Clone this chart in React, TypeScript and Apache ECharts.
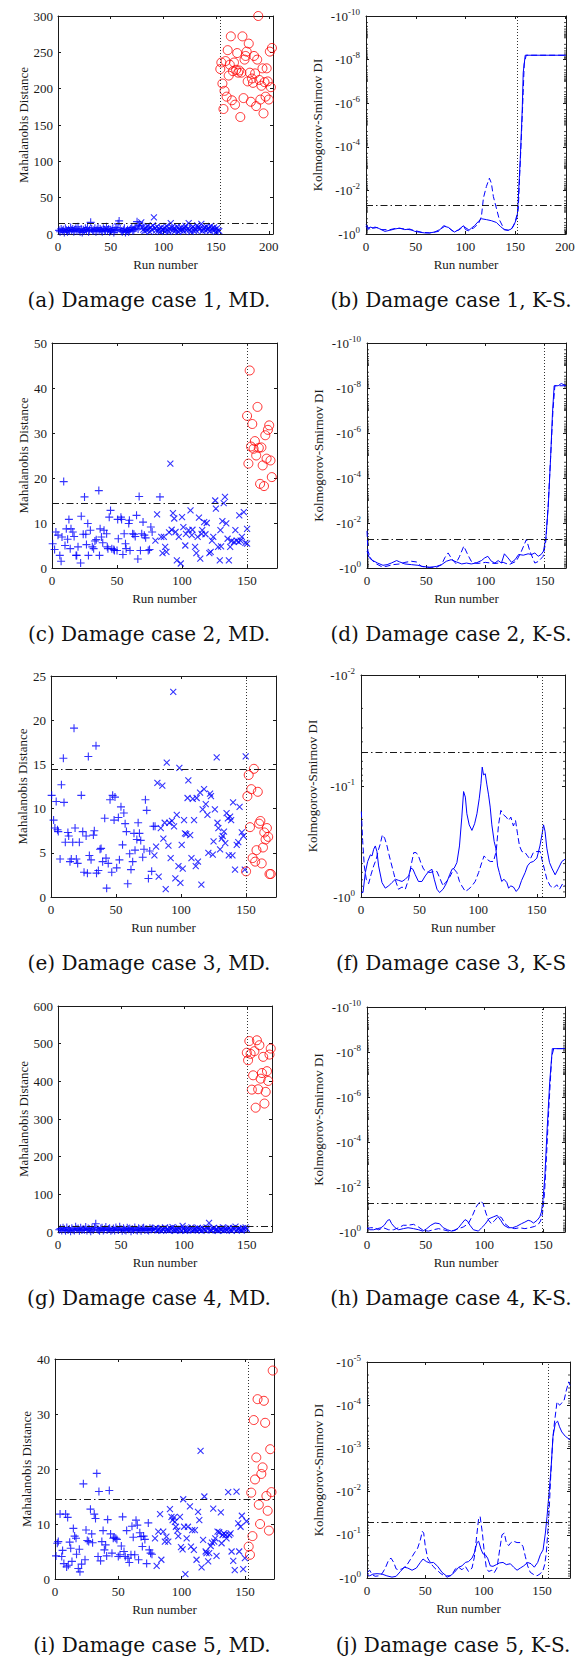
import React, { useEffect, useRef } from 'react';
import * as echarts from 'echarts';

type Pt = [number, number];

const FONT = 'Liberation Serif';
const CAP_FONT = 'DejaVu Serif';
const INK = '#1a1a1a';
const BLUE = '#0000ff';
const RED = '#ff0000';
const PLUS = 'path://M5,0L5,10M0,5L10,5';
const CROSS = 'path://M0,0L10,10M10,0L0,10';

const THRESH_MD = 14.5;
const THRESH_KS = 1.301; // decades below 10^0 (p = 0.05)
const LOG_MINOR = [2, 3, 4, 5, 6, 7, 8, 9];

// ---------- Case 1 (a, b) ----------
const plusA = [5,3,7,4,6,2,8,5,3,6,4,9,5,7,3,6,8,4,10,5,3,7,2,6,4,8,5,9,3,6,16,7,4,5,8,3,6,9,4,7,5,3,8,6,4,10,5,7,3,6,4,8,2,5,9,6,14,18,7,4,3,5,8,2,4,6,3,5,7,9,4,6,8,10,17,7,12];
const crossA = [13,16,9,6,4,8,5,11,7,3,9,6,12,23,8,5,10,4,7,3,9,6,5,8,4,11,6,3,7,15,9,5,8,4,6,10,3,7,5,9,6,4,8,11,5,7,15,6,3,8,10,4,7,5,12,9,6,8,14,4,7,9,5,10,6,8,4,11,7,5,9,6,3,8,5,4];
const circA = [227,236,207,172,197,238,189,253,218,233,272,184,224,236,178,226,249,222,225,161,222,272,187,240,245,251,210,262,222,182,214,208,245,221,176,240,300,212,185,204,228,166,209,189,228,210,185,251,202,256];
const ksB_solid: Pt[] = [[0,0.35],[2,0.2],[4,0.32],[8,0.27],[11,0.3],[14,0.23],[19,0.12],[24,0.17],[29,0.23],[34,0.27],[39,0.2],[44,0.23],[49,0.12],[54,0.08],[59,0.05],[64,0.05],[69,0.09],[74,0.2],[79,0.35],[83,0.3],[86,0.17],[89,0.09],[93,0.2],[95,0.27],[98,0.38],[100,0.2],[103,0.15],[106,0.27],[109,0.38],[113,0.58],[116,0.7],[121,0.66],[126,0.61],[131,0.53],[135,0.35],[139,0.2],[143,0.17],[146,0.23],[149,0.43],[152,0.8],[153,1.57],[155,3.4],[157,5.7],[158,7.4],[160,8.2],[201,8.2]];
const ksB_dashed: Pt[] = [[0,0.43],[4,0.2],[9,0.32],[16,0.2],[24,0.2],[31,0.27],[39,0.23],[48,0.17],[56,0.08],[64,0.05],[73,0.12],[78,0.38],[82,0.32],[88,0.12],[93,0.17],[98,0.35],[103,0.2],[108,0.27],[113,0.47],[116,0.8],[118,1.65],[121,2.18],[124,2.56],[126,2.33],[128,1.72],[131,1.19],[134,0.66],[139,0.2],[143,0.17],[147,0.27],[150,0.58],[153,1.11],[154,2.2],[156,4.3],[158,6.5],[159,7.8],[161,8.2],[201,8.2]];

// ---------- Case 2 (c, d) ----------
const plusC: Pt[] = [[0.5,5.4],[2,4.1],[3,8],[4.6,7.3],[6,2.8],[7,1.5],[7.7,6.9],[9,19.2],[10,5],[11,8.7],[12,6.4],[13,10.8],[14,4.3],[14.6,8.7],[16,8],[17,7],[18.5,2.8],[19,2.8],[20,4.7],[22,1.1],[22.5,11.5],[24,7.5],[25,15.8],[26,7.5],[26.5,5.2],[27.5,9.9],[28,2.8],[29.5,8.4],[31,4.7],[32,4.3],[33,6],[34,6.3],[36,17.2],[36.5,2.8],[37,8.7],[38,6.9],[39,5.6],[40,8.4],[42,7.6],[42.5,4.7],[43,4.3],[44,11.3],[45,12.8],[46,4.3],[47.5,4.1],[48,3.9],[50,3.9],[50.5,10.8],[51,6.5],[53,11.3],[53.5,10.8],[54.5,3],[55.5,7.6],[56.5,5.4],[57,4.3],[59,9.9],[59.5,10.6],[60,3.9],[62,7.6],[63,7.5],[64,7],[65,11.7],[66,2],[67,15.9],[68,3.9],[69,7.6],[70,10.2],[71,7.3],[72,6.7],[74,3.9],[75,4.1],[76,9.1],[77,8],[83,15.8]];
const crossC: Pt[] = [[79.5,6.1],[80.8,11.9],[84,6.9],[85,3.3],[86,6.9],[87,4.7],[88,3.6],[90,7.9],[91,23.2],[92,8.5],[93,12.2],[94,11],[95,8],[96,1.7],[97.5,6.9],[99,1],[100,11.3],[101,9.1],[102.5,5],[103,7.6],[105,8.4],[106.5,12.8],[107.5,7.3],[108,8.5],[110,4.7],[111,3.3],[112,6.9],[113,11.2],[114,2.1],[115,7.6],[115.5,8.4],[117,10.2],[118,7.5],[119,10],[121,3.3],[122,3.6],[123,6.1],[124,6.9],[125.5,15],[126,13.2],[127.7,4.7],[129,1.7],[129.5,8.4],[130,4.8],[131,10.4],[132,14.4],[133,15.8],[134,9.9],[135,6.5],[136,1.7],[137,4.7],[138,6],[140,5.8],[141,8.4],[142,6.1],[143.5,5.8],[144,11.7],[145,6.1],[146,6.9],[147.5,12.4],[148.7,5.6],[150,8.7],[150,5.4]];
const circC = [33.8,23.2,43.9,27,32,26.5,28.2,25,35.8,26.7,18.7,26.8,22.8,18.2,29.5,24.3,30.7,31.7,23.9,20.2];
const ksD_solid: Pt[] = [[0,0.75],[2,0.45],[5,0.33],[9,0.22],[13.5,0.12],[17,0.15],[20.5,0.22],[25,0.33],[27.6,0.27],[32,0.18],[37.5,0.15],[43,0.12],[47,0.07],[53,0.03],[58.6,0.07],[63,0.15],[67,0.3],[71,0.37],[75.5,0.27],[80,0.18],[84,0.22],[88,0.18],[92,0.22],[96.6,0.33],[99.4,0.45],[102,0.52],[105,0.3],[108,0.22],[110.7,0.33],[113.5,0.22],[116,0.63],[119,0.45],[122,0.25],[125,0.37],[128,0.6],[132,0.57],[136,0.63],[139,0.6],[141.7,0.67],[144.5,0.52],[147,0.6],[149,0.75],[151,1.35],[153,2.7],[155,4.9],[156.6,6.9],[158,8.1],[161.4,8.1],[164,8.2],[168,8.1]];
const ksD_dashed: Pt[] = [[0,1.65],[0.8,0.75],[3.7,0.37],[8,0.18],[12,0.07],[16,0.07],[22,0.15],[27.6,0.18],[32,0.25],[37.5,0.3],[41.7,0.27],[46,0.07],[51.5,0.03],[58.6,0.03],[63,0.15],[65.6,0.45],[68.5,0.67],[71,0.45],[75,0.2],[78,0.5],[81.7,0.97],[85,0.6],[88,0.3],[93,0.2],[100,0.25],[108,0.2],[115,0.25],[120,0.15],[126,0.3],[130,0.7],[134.6,1.27],[137.5,0.75],[141.7,0.22],[145,0.3],[148.7,0.52],[151,1.2],[153,2.85],[155,4.9],[157,7.0],[158.6,8.1],[168,8.1]];

// ---------- Case 3 (e, f) ----------
const plusE: Pt[] = [[0.5,11.5],[2,8.7],[3,7.8],[4,10.8],[5,7.6],[5.6,7.4],[7,4.3],[8,12.7],[9.5,15.7],[10,10.7],[11,6.2],[13,7.3],[13.6,6.9],[14.6,4.0],[15.6,4.3],[16.7,6.2],[17.7,19.1],[18.5,7.8],[19.5,4.3],[20.5,3.8],[21.8,6.2],[23.3,11.5],[24.4,7.4],[25.4,2.8],[27,6.9],[28,2.7],[28.7,15.9],[29.5,4.7],[30.8,4.2],[32.6,7.0],[33.3,7.5],[34.6,17.1],[35,2.7],[36.4,3.0],[37.7,5.4],[38.5,5.5],[39.7,4.0],[41.3,8.9],[42.3,4.4],[42.8,1.0],[44,3.8],[45.4,11.0],[46.7,2.8],[47.4,11.5],[48.5,8.7],[49.2,11.3],[50.5,3.3],[51.8,9.0],[52.6,4.2],[53.8,10.2],[55,5.9],[56,9.5],[57,8.3],[58,7.4],[59,1.5],[60.5,4.9],[61.5,3.1],[62.8,4.0],[63.8,7.2],[64.6,5.3],[66,6.5],[67,8.4],[68,7.2],[69,6.4],[70.5,4.5],[71.5,5.4],[72.6,11],[73.6,9.8],[74.9,2.1],[75.9,5.2],[77.4,2.9],[78.7,8.0],[80,8.0]];
const crossE: Pt[] = [[79.5,4.7],[80.8,5.7],[81.8,12.9],[82.8,2.3],[84.4,7.8],[85.6,12.6],[86.4,6.6],[87.4,8.4],[88.2,0.9],[89,15.2],[90.3,5.8],[91,8.4],[92,4.4],[93,8.6],[94,23.2],[94.6,8.0],[95.6,2.1],[96.7,9.3],[98,3.5],[98.7,14.6],[99.5,1.6],[100.5,5.9],[101.3,3.2],[102.3,8.7],[103,7.2],[104,7.1],[105,11.2],[105.6,13.2],[107,7.0],[108,4.4],[109,11.1],[110,8.7],[111.3,3.5],[112,11.2],[113,4.0],[114.6,11.8],[115.6,1.4],[116.6,9.9],[117.7,12.2],[119,10.5],[120.3,9.3],[121,5.0],[122.3,11.7],[123,11.4],[124.4,4.8],[125,6.3],[126,9.9],[127.4,15.8],[128,8.4],[128.7,7.8],[130,5.4],[131.3,6.6],[132,6.9],[133,7.4],[134,6.1],[135,9.5],[136,8.9],[136.7,4.7],[137.7,9.1],[138.5,8.7],[139.5,4.7],[140,10.7],[141.5,3.1],[142.8,5.9],[144,6.2],[145,10.2],[146.7,7.3],[148,6.9],[149,3.1],[149.7,15.9]];
const circE = [2.9,11.4,13.8,7.9,12.2,4.4,14.5,4.0,5.3,11.9,8.3,8.6,3.8,5.6,7.3,6.5,7.8,6.8,2.6,2.6];
const ksF_solid: Pt[] = [[0.3,0.04],[1.7,0.04],[3.7,0.22],[5.7,0.32],[8,0.38],[9.4,0.37],[10.8,0.43],[12.2,0.46],[13.6,0.41],[15,0.28],[17.9,0.13],[20.7,0.08],[23.6,0.1],[26.4,0.13],[29.3,0.16],[32,0.15],[35,0.14],[37.8,0.16],[40.6,0.19],[42.6,0.26],[44.3,0.25],[46.3,0.2],[49,0.14],[52,0.14],[54.8,0.19],[57.7,0.23],[60.5,0.25],[62.5,0.16],[64.8,0.07],[67,0.04],[70,0.07],[72.7,0.12],[75.6,0.2],[77.6,0.25],[79.5,0.26],[81.8,0.31],[84,0.46],[86,0.72],[87.5,0.95],[89,0.9],[90.3,0.75],[92.3,0.65],[94.6,0.6],[96.9,0.66],[98.9,0.75],[100.9,0.89],[102.3,1.02],[103.4,1.17],[104.5,1.1],[106,1.11],[107.4,1.01],[108.8,0.92],[110.2,0.81],[111.6,0.65],[113.6,0.5],[115,0.44],[116.5,0.28],[118,0.22],[120,0.14],[122,0.16],[124.4,0.13],[125.9,0.08],[127.8,0.1],[130,0.09],[132.4,0.05],[134.7,0.08],[137,0.15],[140,0.22],[142,0.28],[144.3,0.31],[147,0.32],[150,0.35],[152.6,0.46],[154.5,0.57],[155.7,0.65],[157,0.59],[158.5,0.44],[160.8,0.31],[162.8,0.26],[165.6,0.2],[168.5,0.26],[171.3,0.32],[174,0.34]];
const ksF_dashed: Pt[] = [[0.3,0.77],[1.4,0.51],[2.8,0.28],[4.5,0.16],[6.5,0.12],[8.5,0.2],[10.8,0.28],[13,0.34],[15,0.43],[16.5,0.48],[18.2,0.56],[20.2,0.53],[22.2,0.46],[23.9,0.38],[25.6,0.31],[27.8,0.22],[30,0.13],[32,0.07],[35,0.09],[37.8,0.07],[40.6,0.16],[42.6,0.28],[45,0.4],[47,0.4],[49,0.37],[51,0.31],[53.4,0.25],[56,0.23],[59,0.22],[62,0.23],[64.8,0.23],[67.6,0.16],[70,0.1],[72,0.13],[74.7,0.16],[77.6,0.22],[79.5,0.25],[81.8,0.22],[84,0.14],[86,0.1],[89,0.05],[91.8,0.07],[94.6,0.1],[97.4,0.14],[100.3,0.22],[103,0.31],[105,0.37],[107.4,0.34],[110.2,0.32],[113,0.32],[115.3,0.41],[117.3,0.65],[119.3,0.78],[121.6,0.74],[123.9,0.72],[125.9,0.69],[127.8,0.72],[130,0.64],[131.8,0.69],[133.5,0.57],[135.2,0.46],[137.2,0.41],[140,0.4],[142,0.37],[144.3,0.34],[147,0.4],[150,0.41],[152.8,0.41],[154.3,0.34],[156.2,0.26],[158.5,0.16],[161.4,0.1],[164.2,0.08],[167,0.11],[169.3,0.07],[172,0.12],[174,0.1]];

// ---------- Case 4 (g, h) ----------
const plusG = [6,9,4,11,7,3,12,5,8,2,10,6,4,14,7,9,3,11,5,8,6,13,4,9,7,2,10,5,12,22,8,6,3,9,11,4,7,13,5,8,10,3,6,9,4,12,7,5,14,8,3,10,6,4,11,7,9,2,8,5,12,6,4,10,7,3,9,11,5,8,6,4,10,7,9];
const crossG = [5,8,11,4,7,10,3,9,6,12,5,8,4,10,7,13,6,3,9,5,11,7,4,16,8,3,6,10,5,9,12,4,7,8,5,11,6,9,3,10,7,5,12,8,24,6,4,9,11,5,8,3,10,7,6,12,4,9,5,8,11,6,3,10,7,14,5,8,9,6,4,10,7,12,8];
const circG = [476,456,507,473,378,416,480,330,509,379,496,407,422,465,341,372,427,401,471,487];
const ksH_solid: Pt[] = [[0,0.19],[2.3,0.1],[5.7,0.1],[9,0.15],[12,0.19],[14.7,0.3],[17.6,0.52],[19.3,0.55],[21,0.37],[24,0.19],[27,0.1],[31,0.15],[35,0.19],[39.7,0.15],[44,0.1],[47.6,0.04],[51,0.15],[54.4,0.3],[58,0.4],[61.8,0.37],[65,0.19],[68.6,0.1],[72,0.04],[75,0.07],[78,0.19],[80.7,0.37],[83.6,0.55],[85.6,0.49],[87.8,0.3],[90.7,0.1],[95,0.04],[97.7,0.19],[100.6,0.34],[104,0.59],[107.6,0.67],[111,0.74],[114,0.52],[116.7,0.3],[120.4,0.19],[124,0.19],[127.5,0.25],[131.7,0.37],[134.6,0.44],[137.4,0.52],[139.4,0.49],[142,0.4],[145,0.52],[147.3,0.67],[148.7,0.89],[150,1.41],[151.6,2.44],[153.5,4.5],[155.8,6.7],[158,8.15],[168.8,8.15]];
const ksH_dashed: Pt[] = [[0,0.15],[2.8,0.19],[6.2,0.19],[9.9,0.1],[14,0.19],[18.4,0.1],[22.7,0.1],[27,0.19],[31,0.3],[35,0.3],[39.7,0.34],[44,0.22],[48,0.07],[52.4,0.04],[56.7,0.1],[61,0.15],[65,0.1],[69.4,0.04],[73.7,0.07],[78,0.15],[82,0.22],[86.4,0.37],[90,0.74],[93,1.11],[95,1.26],[97,1.38],[99,1.26],[101.4,0.84],[103.7,0.52],[106,0.37],[109,0.52],[112,0.7],[114.7,0.64],[117.6,0.37],[121.8,0.19],[126,0.15],[130,0.19],[134.6,0.15],[138.8,0.19],[143,0.25],[146,0.34],[148,0.49],[149.6,0.81],[151.3,1.7],[153,3.33],[155.2,5.7],[157.5,7.8],[159.2,8.15],[168.8,8.15]];

// ---------- Case 5 (i, j) ----------
const plusI: Pt[] = [[0.8,4.2],[1.8,6.5],[2.6,6.8],[4,11.8],[5.3,4.1],[6,5.2],[7,2.8],[8.4,11.8],[9.2,2.2],[10,11.2],[10.5,2.5],[11.6,6.7],[12.4,5.6],[13.4,3.2],[14.5,9.2],[15.5,7.8],[16.6,7.4],[17,4.5],[18.4,1.9],[19.2,5.4],[19.7,1.3],[21,2.7],[22.4,17.3],[23.7,3.5],[24.5,8.9],[25.5,7.0],[26.6,6.8],[28,12.7],[29,8.2],[29.7,6.6],[31,11.8],[32,11.0],[33,19.2],[34,4.1],[34.7,15.9],[36,3.3],[37,6.8],[38,8.8],[39,5.3],[40,6.2],[40.8,4.2],[41.6,10.8],[42.9,16.1],[43.9,8.2],[45,4.7],[46,7.4],[46.8,7.6],[48,7.4],[48.9,7.2],[50,4.1],[51.3,4.4],[52.4,6.0],[53.4,11.3],[54.5,5.0],[55.5,4.1],[56.6,8.8],[57.6,3.8],[58.7,3.0],[60,4.4],[60.8,9.6],[61.8,7.6],[63,4.4],[64,10.7],[65,9.8],[66,3.5],[67,8.4],[68,7.7],[69,5.9],[70,7.8],[71,7.2],[72.4,2.8],[73.7,10.2],[74.5,5.3],[75.5,4.7],[76.6,4.5]];
const crossI: Pt[] = [[79,7.4],[80.3,2.4],[81.6,8.6],[83,11.8],[84,3.5],[85.5,8.6],[86.8,6.8],[88,7.7],[89.5,6.8],[90.8,12.7],[92,11.3],[92.9,10.7],[94,11.2],[94.7,10.4],[95.5,9.5],[96.6,8.8],[97.4,7.8],[98.7,11.3],[99.5,5.8],[100.8,5.4],[101.3,14.5],[102,9.5],[103,0.9],[104,7.4],[105,9.5],[106.6,13.2],[107.4,5.9],[108.4,8.9],[109.7,5.3],[110.5,8.9],[111.8,3.5],[113,12.2],[114,10.7],[115,23.3],[115.8,2.1],[117,7.1],[118,15],[119,5.0],[119.7,4.7],[121,3.2],[121.8,4.7],[123,6.0],[124,6.6],[125,12.8],[125.8,6.8],[126.6,7.4],[127.6,4.2],[128.4,8.6],[129.7,8.5],[131,12.1],[131.6,6.5],[132.4,8.0],[133.4,8.3],[134.7,8.0],[135.5,7.4],[136.8,15.8],[137.6,8.0],[138.7,8.3],[139.5,5.0],[140.8,3.3],[142,1.6],[143.4,15.9],[144.7,10.1],[145.5,5.0],[146.6,9.5],[147.6,11.5],[148.7,1.8],[150,3.8],[151.3,10.5]];
const circI = [5.9,4.4,15.7,7.8,28.9,18.1,22.1,32.7,13.5,10.0,19.1,20.3,32.4,28.4,15.1,12.4,8.8,23.6,15.8,37.9];
const ksJ_solid: Pt[] = [[0.3,0.08],[2.3,0.05],[5,0.09],[8.6,0.1],[12.9,0.09],[17,0.05],[21.4,0.02],[25,0.04],[28.6,0.15],[32,0.25],[35,0.23],[38.6,0.18],[42.3,0.23],[45.7,0.36],[48,0.44],[50.9,0.38],[53.7,0.35],[57,0.36],[60.6,0.27],[64.3,0.13],[68,0.05],[71.4,0.05],[74.9,0.13],[78.6,0.25],[81.4,0.28],[84.3,0.36],[87,0.38],[90,0.46],[92,0.58],[94.3,0.82],[95.7,0.85],[97.7,0.67],[99.4,0.56],[101.4,0.54],[103.4,0.46],[105.7,0.28],[108,0.27],[110.9,0.31],[113.7,0.35],[116.6,0.36],[119.4,0.31],[122.9,0.33],[125.7,0.25],[128.6,0.18],[131.4,0.23],[134.3,0.28],[137.7,0.36],[140.6,0.33],[143.4,0.25],[146.3,0.36],[148.6,0.54],[150.9,0.65],[152.9,1.04],[154.3,1.42],[156,1.96],[157.7,2.5],[159.4,3.27],[161.4,3.58],[163.4,3.63],[165,3.5],[167,3.38],[170,3.28],[174,3.2]];
const ksJ_dashed: Pt[] = [[0.3,0.13],[2.3,0.18],[4.3,0.08],[7,0.04],[10,0.05],[12.9,0.1],[15.7,0.23],[18.6,0.42],[20.6,0.46],[22.9,0.36],[25,0.21],[27,0.19],[30,0.21],[33.7,0.28],[37,0.42],[40.6,0.58],[43.4,0.69],[45.7,0.88],[47.4,1.08],[48.6,1.04],[50,0.73],[52,0.46],[54.3,0.36],[56.6,0.27],[60,0.18],[63.4,0.1],[66.3,0.05],[69,0.02],[72.9,0.08],[75.7,0.21],[78.5,0.25],[81.4,0.19],[84.3,0.27],[87,0.15],[90,0.23],[92,0.48],[94.3,1.04],[95.7,1.38],[97,1.42],[98.9,1.04],[100.6,0.58],[102.3,0.23],[104.3,0.15],[107,0.18],[109,0.12],[111.4,0.23],[113.7,0.65],[115.7,1.0],[117.7,1.04],[119.4,0.82],[121.4,0.75],[123.4,0.82],[125.7,0.85],[128.6,0.82],[131.4,0.82],[133.7,0.73],[135.7,0.5],[137.7,0.28],[140,0.13],[142.9,0.08],[145.7,0.05],[148.6,0.1],[150.9,0.18],[152.3,0.31],[153.7,0.58],[154.9,1.04],[156.3,1.65],[157.7,2.5],[159.4,3.27],[160.9,3.65],[162.9,4.08],[165,4.0],[167,4.05],[169,4.12],[170.9,4.35],[172.9,4.54],[174,4.46]];

const runs = (ys: number[], first: number): Pt[] => ys.map((y, i) => [first + i, y]);

interface Panel {
  kind: 'md' | 'ks';
  box: [number, number, number, number];
  xMax: number;
  yMax: number;
  yInt: number;
  vline: number;
  caption: string;
  cap: [number, number];
  plus?: Pt[]; cross?: Pt[]; circ?: Pt[];
  solid?: Pt[]; dashed?: Pt[];
}

const panels: Panel[] = [
  { kind: 'md', box: [58, 16, 215, 218], xMax: 204, yMax: 300, yInt: 50, vline: 154, caption: '(a) Damage case 1, MD.', cap: [149, 300],
    plus: runs(plusA, 1), cross: runs(crossA, 78), circ: runs(circA, 154) },
  { kind: 'ks', box: [366, 16, 200, 218], xMax: 201, yMax: 10, yInt: 2, vline: 152, caption: '(b) Damage case 1, K-S.', cap: [451, 300],
    solid: ksB_solid, dashed: ksB_dashed },
  { kind: 'md', box: [52, 343, 225, 225], xMax: 173, yMax: 50, yInt: 10, vline: 150, caption: '(c) Damage case 2, MD.', cap: [149, 634],
    plus: plusC, cross: crossC, circ: runs(circC, 150) },
  { kind: 'ks', box: [367, 343, 199, 225], xMax: 168, yMax: 10, yInt: 2, vline: 149.5, caption: '(d) Damage case 2, K-S.', cap: [451, 634],
    solid: ksD_solid, dashed: ksD_dashed },
  { kind: 'md', box: [51, 676, 225, 221], xMax: 173, yMax: 25, yInt: 5, vline: 150, caption: '(e) Damage case 3, MD.', cap: [149, 963],
    plus: plusE, cross: crossE, circ: runs(circE, 150) },
  { kind: 'ks', box: [361, 675, 204, 222], xMax: 174, yMax: 2, yInt: 1, vline: 155, caption: '(f) Damage case 3, K-S', cap: [451, 963],
    solid: ksF_solid, dashed: ksF_dashed },
  { kind: 'md', box: [58, 1006, 214, 226], xMax: 170, yMax: 600, yInt: 100, vline: 150, caption: '(g) Damage case 4, MD.', cap: [149, 1298],
    plus: runs(plusG, 1), cross: runs(crossG, 76), circ: runs(circG, 150) },
  { kind: 'ks', box: [367, 1007, 198, 225], xMax: 168.8, yMax: 10, yInt: 2, vline: 149.5, caption: '(h) Damage case 4, K-S.', cap: [451, 1298],
    solid: ksH_solid, dashed: ksH_dashed },
  { kind: 'md', box: [55, 1359, 219, 220], xMax: 173, yMax: 40, yInt: 10, vline: 153, caption: '(i) Damage case 5, MD.', cap: [152, 1645],
    plus: plusI, cross: crossI, circ: runs(circI, 153) },
  { kind: 'ks', box: [367, 1362, 203, 216], xMax: 174, yMax: 5, yInt: 1, vline: 155, caption: '(j) Damage case 5, K-S.', cap: [453, 1645],
    solid: ksJ_solid, dashed: ksJ_dashed },
];

// log-axis minor tick positions (in decades) for a K-S panel
function minorTicks(p: Panel): Pt[] {
  const out: Pt[] = [];
  for (let k = 0; k < p.yMax; k++) {
    if (k > 0 && k % p.yInt !== 0) out.push([0, k]);
    LOG_MINOR.forEach((m) => out.push([0, k + 1 - Math.log10(m)]));
  }
  return out;
}

function buildOption() {
  const grid: any[] = [];
  const xAxis: any[] = [];
  const yAxis: any[] = [];
  const series: any[] = [];
  const graphic: any[] = [];

  const lineStyle = { color: INK, width: 1 };
  const tick = { show: true, inside: true, length: 3, lineStyle: { color: INK, width: 1 } };
  const tickLabel = { fontFamily: FONT, fontSize: 13, color: INK };
  const nameStyle = { fontFamily: FONT, fontSize: 13, color: INK };

  panels.forEach((p, gi) => {
    const [left, top, width, height] = p.box;
    grid.push({ left, top, width, height, containLabel: false, show: false });

    const xBase = {
      type: 'value', gridIndex: gi, min: 0, max: p.xMax, interval: 50,
      axisLine: { show: true, onZero: false, lineStyle },
      axisTick: tick, splitLine: { show: false },
    };
    xAxis.push({
      ...xBase, position: 'bottom',
      axisLabel: { ...tickLabel, margin: 6, formatter: (v: number) => (v % 50 === 0 ? String(v) : '') },
      name: 'Run number', nameLocation: 'middle', nameGap: 24, nameTextStyle: nameStyle,
    });
    xAxis.push({ ...xBase, position: 'top', axisLabel: { show: false } });

    const yBase = {
      type: 'value', gridIndex: gi, min: 0, max: p.yMax, interval: p.yInt,
      axisLine: { show: true, onZero: false, lineStyle },
      axisTick: tick, splitLine: { show: false },
    };
    if (p.kind === 'md') {
      yAxis.push({
        ...yBase, position: 'left',
        axisLabel: { ...tickLabel, margin: 5 },
        name: 'Mahalanobis Distance', nameLocation: 'middle', nameGap: 20, nameTextStyle: nameStyle,
      });
    } else {
      yAxis.push({
        ...yBase, position: 'left',
        axisLabel: {
          margin: 6,
          formatter: (v: number) => (Number.isInteger(v) ? `{b|-10}{s|${v === 0 ? '0' : '-' + v}}` : ''),
          rich: {
            b: { fontFamily: FONT, fontSize: 13, color: INK },
            s: { fontFamily: FONT, fontSize: 9, color: INK, padding: [0, 0, 9, 0] },
          },
        },
        name: 'Kolmogorov-Smirnov DI', nameLocation: 'middle', nameGap: 42, nameTextStyle: nameStyle,
      });
    }
    yAxis.push({ ...yBase, position: 'right', axisLabel: { show: false } });

    const ax = { xAxisIndex: gi * 2, yAxisIndex: gi * 2 };
    const markLine = {
      silent: true, symbol: ['none', 'none'], animation: false, label: { show: false },
      emphasis: { disabled: true },
      data: [
        { yAxis: p.kind === 'md' ? THRESH_MD : THRESH_KS, lineStyle: { type: [7, 3, 1.5, 3], color: INK, width: 1 } },
        { xAxis: p.vline, lineStyle: { type: [1, 2], color: '#333', width: 1 } },
      ],
    };

    if (p.kind === 'md') {
      series.push({
        type: 'scatter', ...ax, data: p.plus, symbol: PLUS, symbolSize: 8,
        itemStyle: { color: 'rgba(0,0,0,0)', borderColor: BLUE, borderWidth: 1.1 },
        emphasis: { disabled: true }, markLine,
      });
      series.push({
        type: 'scatter', ...ax, data: p.cross, symbol: CROSS, symbolSize: 6,
        itemStyle: { color: 'rgba(0,0,0,0)', borderColor: BLUE, borderWidth: 1.1 },
        emphasis: { disabled: true },
      });
      series.push({
        type: 'scatter', ...ax, data: p.circ, symbol: 'circle', symbolSize: 9,
        itemStyle: { color: 'rgba(0,0,0,0)', borderColor: RED, borderWidth: 1 },
        emphasis: { disabled: true },
      });
    } else {
      series.push({
        type: 'line', ...ax, data: p.solid, showSymbol: false, symbol: 'none',
        lineStyle: { color: BLUE, width: 1 }, emphasis: { disabled: true }, markLine,
      });
      series.push({
        type: 'line', ...ax, data: p.dashed, showSymbol: false, symbol: 'none',
        lineStyle: { color: BLUE, width: 1, type: [6, 3] }, emphasis: { disabled: true },
      });
      series.push({
        type: 'custom', ...ax, data: minorTicks(p), silent: true, clip: false,
        encode: { x: 0, y: 1 },
        renderItem: (params: any, api: any) => {
          const cs = params.coordSys;
          const y = api.coord([0, api.value(1)])[1];
          return {
            type: 'group',
            children: [
              { type: 'line', shape: { x1: cs.x, y1: y, x2: cs.x + 2, y2: y }, style: { stroke: INK, lineWidth: 0.8 } },
              { type: 'line', shape: { x1: cs.x + cs.width - 2, y1: y, x2: cs.x + cs.width, y2: y }, style: { stroke: INK, lineWidth: 0.8 } },
            ],
          };
        },
      });
    }

    graphic.push({
      type: 'text', x: p.cap[0], y: p.cap[1], silent: true,
      style: {
        text: p.caption, fill: '#111', font: `20px "${CAP_FONT}"`,
        textAlign: 'center', textVerticalAlign: 'middle',
      },
    });
  });

  return {
    animation: false,
    backgroundColor: '#ffffff',
    grid, xAxis, yAxis, series, graphic,
  };
}

export default function App() {
  const ref = useRef<HTMLDivElement>(null);
  useEffect(() => {
    if (!ref.current) return;
    const chart = echarts.init(ref.current, undefined, { renderer: 'svg' });
    chart.setOption(buildOption() as any);
    return () => chart.dispose();
  }, []);
  return (
    <div
      ref={ref}
      style={{ position: 'absolute', left: 0, top: 0, width: 579, height: 1657, background: '#fff' }}
    />
  );
}
